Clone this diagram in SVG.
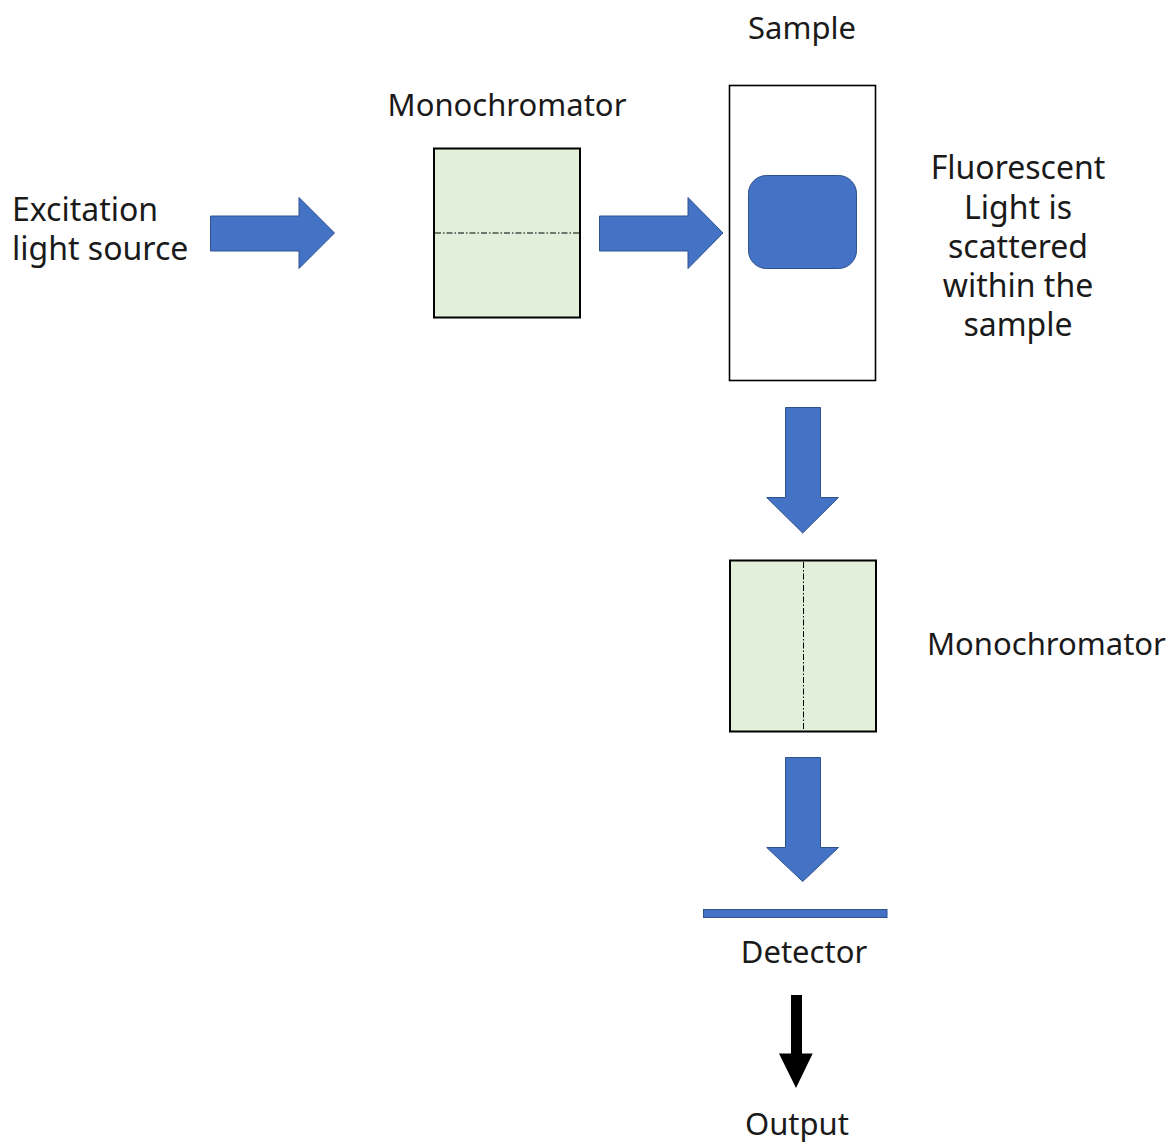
<svg xmlns="http://www.w3.org/2000/svg" width="1170" height="1142" viewBox="0 0 1170 1142">
  <style>
    .label { font-family: "Noto Sans", "Liberation Sans", sans-serif; font-size: 31px; fill: #1a1a1a; }
    .wide { font-size: 32px; }
    .mid { text-anchor: middle; }
    .mono { fill: #E2EFDA; stroke: #000; stroke-width: 2; }
    .slit { fill: none; stroke: #000; stroke-width: 1; stroke-dasharray: 6 2 1.5 2; }
    .beam { fill: #4472C4; stroke: #2F528F; stroke-width: 1; stroke-linejoin: miter; }
    .signal { fill: #000; }
  </style>
  <rect width="1170" height="1142" fill="#fff"/>

  <!-- light source -->
  <g id="source">
    <text class="label wide" x="12" y="221">Excitation</text>
    <text class="label wide" x="12" y="260">light source</text>
  </g>

  <!-- excitation monochromator -->
  <g id="monochromator-ex">
    <text class="label mid" x="507" y="116">Monochromator</text>
    <rect class="mono" x="434" y="148.5" width="146" height="169"/>
    <line class="slit" x1="435" y1="233" x2="579" y2="233"/>
  </g>

  <!-- sample cell -->
  <g id="sample">
    <text class="label mid" x="802" y="39">Sample</text>
    <rect x="729.5" y="85.5" width="146" height="295" fill="#fff" stroke="#000" stroke-width="1.6"/>
    <rect class="beam" x="748.5" y="175.5" width="108" height="93" rx="18" ry="18"/>
  </g>

  <g id="fluorescence-note">
    <text class="label wide mid" x="1018" y="179">Fluorescent</text>
    <text class="label wide mid" x="1018" y="219">Light is</text>
    <text class="label wide mid" x="1018" y="258">scattered</text>
    <text class="label wide mid" x="1018" y="297">within the</text>
    <text class="label wide mid" x="1018" y="336">sample</text>
  </g>

  <!-- emission monochromator -->
  <g id="monochromator-em">
    <rect class="mono" x="730" y="560.5" width="146" height="171"/>
    <line class="slit" x1="803.5" y1="562" x2="803.5" y2="730"/>
    <text class="label" x="927" y="655">Monochromator</text>
  </g>

  <!-- detector -->
  <g id="detector">
    <rect class="beam" x="703.5" y="909.5" width="183.5" height="8"/>
    <text class="label mid" x="804" y="963">Detector</text>
  </g>

  <g id="output">
    <text class="label mid" x="797" y="1135">Output</text>
  </g>

  <!-- light path and signal arrows -->
  <g id="connectors">
    <path class="beam" d="M210.5 216 H299 V197.5 L334.5 233 L299 268.5 V251 H210.5 Z"/>
    <path class="beam" d="M599.5 216 H688 V197.5 L723 233 L688 268.5 V251 H599.5 Z"/>
    <path class="beam" d="M785.5 407.5 H820.5 V497.5 H838.5 L802.7 533 L766.7 497.5 H785.5 Z"/>
    <path class="beam" d="M785.5 757.5 H820.5 V847.5 H838.5 L802.7 881.5 L766.7 847.5 H785.5 Z"/>
    <path class="signal" d="M791 995 H802 V1053.5 H812.7 L796 1088 L779 1053.5 H791 Z"/>
  </g>
</svg>
